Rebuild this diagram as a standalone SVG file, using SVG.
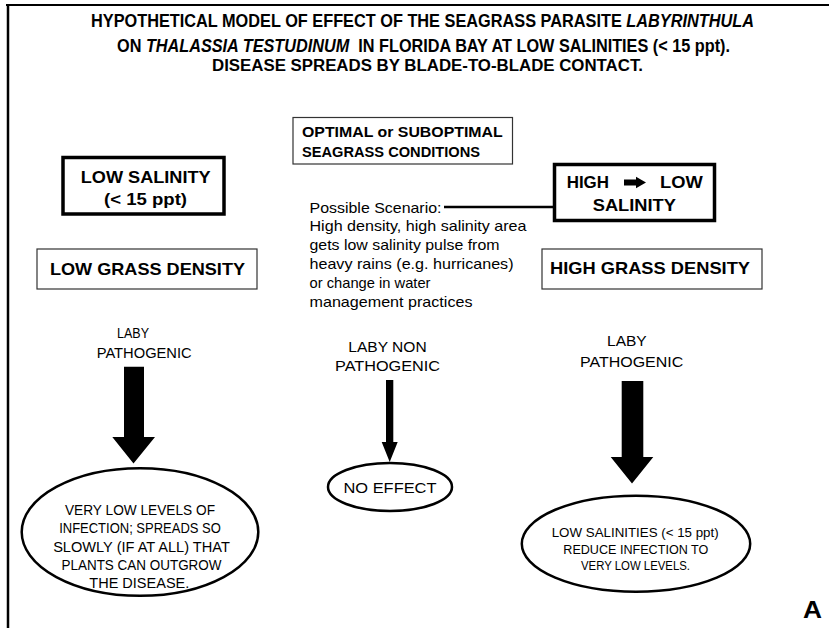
<svg xmlns="http://www.w3.org/2000/svg" width="829" height="628" viewBox="0 0 829 628">
<style>
text{font-family:"Liberation Sans",Arial,Helvetica,sans-serif;fill:#000}
.t{font-weight:bold;font-size:18px}
.t3{font-weight:bold;font-size:16px}
.it{font-style:italic}
.bx{font-weight:bold;font-size:17px}
.bs{font-weight:bold;font-size:14.5px}
.sc{font-size:15px}
.lb{font-size:15px}
.el{font-size:14px}
.er{font-size:13.4px}
.thick{fill:#fff;stroke:#000;stroke-width:3.5}
.thin{fill:#fff;stroke:#333;stroke-width:1.2}
.ell{fill:#fff;stroke:#000;stroke-width:2.5}
.arr{fill:#000}
</style>
<rect width="829" height="628" fill="#fff"/>
<g id="frame">
<line x1="6" y1="5" x2="829" y2="5" stroke="#000" stroke-width="2.2"/>
<line x1="8" y1="4" x2="8" y2="628" stroke="#000" stroke-width="2.5"/>
</g>
<g id="title">
<text class="t" x="91" y="26.5" textLength="663" lengthAdjust="spacingAndGlyphs">HYPOTHETICAL MODEL OF EFFECT OF THE SEAGRASS PARASITE <tspan class="it">LABYRINTHULA</tspan></text>
<text class="t" x="117" y="52" textLength="613" lengthAdjust="spacingAndGlyphs">ON <tspan class="it">THALASSIA TESTUDINUM</tspan>&#160; IN FLORIDA BAY AT LOW SALINITIES (&lt; 15 ppt).</text>
<text class="t3" x="212" y="71" textLength="431" lengthAdjust="spacingAndGlyphs">DISEASE SPREADS BY BLADE-TO-BLADE CONTACT.</text>
</g>
<g id="low-salinity">
<rect class="thick" x="63" y="157.5" width="161" height="56.5"/>
<text class="bx" x="80.7" y="183" textLength="130" lengthAdjust="spacingAndGlyphs">LOW SALINITY</text>
<text class="bx" x="104" y="205" textLength="83" lengthAdjust="spacingAndGlyphs">(&lt; 15 ppt)</text>
</g>
<g id="low-grass-density">
<rect class="thin" x="37" y="249" width="220" height="40"/>
<text class="bx" x="50" y="275" textLength="195" lengthAdjust="spacingAndGlyphs">LOW GRASS DENSITY</text>
</g>
<g id="optimal">
<rect class="thin" x="293" y="117.5" width="219.5" height="46.5"/>
<text class="bs" x="302" y="137.3" textLength="200.7" lengthAdjust="spacingAndGlyphs">OPTIMAL or SUBOPTIMAL</text>
<text class="bs" x="302" y="157.3" textLength="178" lengthAdjust="spacingAndGlyphs">SEAGRASS CONDITIONS</text>
</g>
<g id="high-low-salinity">
<rect class="thick" x="554.5" y="164.5" width="160" height="56"/>
<text class="bx" x="566.7" y="188.3" textLength="42.3" lengthAdjust="spacingAndGlyphs">HIGH</text>
<polygon class="arr" points="624,179.6 636,179.6 636,176.7 646,182.5 636,188.3 636,185.4 624,185.4"/>
<text class="bx" x="660" y="188.3" textLength="42.7" lengthAdjust="spacingAndGlyphs">LOW</text>
<text class="bx" x="592.7" y="210.7" textLength="83.3" lengthAdjust="spacingAndGlyphs">SALINITY</text>
</g>
<g id="high-grass-density">
<rect class="thin" x="542" y="249" width="220" height="40"/>
<text class="bx" x="550" y="273.5" textLength="200" lengthAdjust="spacingAndGlyphs">HIGH GRASS DENSITY</text>
</g>
<g id="scenario">
<text class="sc" x="309.5" y="212.5" textLength="132" lengthAdjust="spacingAndGlyphs">Possible Scenario:</text>
<text class="sc" x="309.5" y="231.3" textLength="217" lengthAdjust="spacingAndGlyphs">High density, high salinity area</text>
<text class="sc" x="309.5" y="250.1" textLength="190" lengthAdjust="spacingAndGlyphs">gets low salinity pulse from</text>
<text class="sc" x="309.5" y="268.9" textLength="204" lengthAdjust="spacingAndGlyphs">heavy rains (e.g. hurricanes)</text>
<text class="sc" x="309.5" y="287.7" textLength="121" lengthAdjust="spacingAndGlyphs">or change in water</text>
<text class="sc" x="309.5" y="306.5" textLength="163" lengthAdjust="spacingAndGlyphs">management practices</text>
</g>
<g id="label-left">
<text class="lb" x="133" y="338" text-anchor="middle" textLength="32" lengthAdjust="spacingAndGlyphs">LABY</text>
<text class="lb" x="96.7" y="358.3" textLength="95" lengthAdjust="spacingAndGlyphs">PATHOGENIC</text>
</g>
<g id="label-middle">
<text class="lb" x="348.3" y="352.3" textLength="78.4" lengthAdjust="spacingAndGlyphs">LABY NON</text>
<text class="lb" x="335" y="371" textLength="105" lengthAdjust="spacingAndGlyphs">PATHOGENIC</text>
</g>
<g id="label-right">
<text class="lb" x="607" y="345.7" textLength="39.7" lengthAdjust="spacingAndGlyphs">LABY</text>
<text class="lb" x="580" y="366.7" textLength="103.3" lengthAdjust="spacingAndGlyphs">PATHOGENIC</text>
</g>
<g id="connectors">
<line x1="444" y1="207" x2="554.5" y2="207" stroke="#000" stroke-width="2.5"/>
<polygon class="arr" points="124,366.7 144,366.7 144,437 155,437 133.5,463.5 112.3,437 124,437"/>
<polygon class="arr" points="386,380 393.3,380 393.3,442 397.7,442 389.7,462 381.7,442 386,442"/>
<polygon class="arr" points="621.7,381 643.3,381 643.3,457 653.3,457 632,483.5 610.7,457 621.7,457"/>
</g>
<g id="outcome-left">
<ellipse class="ell" cx="140" cy="532" rx="118.3" ry="63.8"/>
<text class="el" x="140" y="514.5" text-anchor="middle" textLength="150" lengthAdjust="spacingAndGlyphs">VERY LOW LEVELS OF</text>
<text class="el" x="140" y="533" text-anchor="middle" textLength="161.7" lengthAdjust="spacingAndGlyphs">INFECTION; SPREADS SO</text>
<text class="el" x="141.5" y="551.5" text-anchor="middle" textLength="176.7" lengthAdjust="spacingAndGlyphs">SLOWLY (IF AT ALL) THAT</text>
<text class="el" x="141.5" y="570" text-anchor="middle" textLength="160" lengthAdjust="spacingAndGlyphs">PLANTS CAN OUTGROW</text>
<text class="el" x="139.3" y="588" text-anchor="middle" textLength="100" lengthAdjust="spacingAndGlyphs">THE DISEASE.</text>
</g>
<g id="outcome-middle">
<ellipse class="ell" cx="390" cy="487" rx="62" ry="24"/>
<text class="el" x="390" y="492.5" text-anchor="middle" textLength="93" lengthAdjust="spacingAndGlyphs">NO EFFECT</text>
</g>
<g id="outcome-right">
<ellipse class="ell" cx="636" cy="543.7" rx="114.2" ry="48"/>
<text class="er" x="635.2" y="536.7" text-anchor="middle" textLength="167" lengthAdjust="spacingAndGlyphs">LOW SALINITIES (&lt; 15 ppt)</text>
<text class="er" x="635.8" y="553.5" text-anchor="middle" textLength="145" lengthAdjust="spacingAndGlyphs">REDUCE INFECTION TO</text>
<text class="er" x="635.5" y="570.2" text-anchor="middle" textLength="109" lengthAdjust="spacingAndGlyphs">VERY LOW LEVELS.</text>
</g>
<g id="panel-label">
<text x="803" y="618" font-size="24" font-weight="bold" textLength="19" lengthAdjust="spacingAndGlyphs">A</text>
</g>
</svg>
